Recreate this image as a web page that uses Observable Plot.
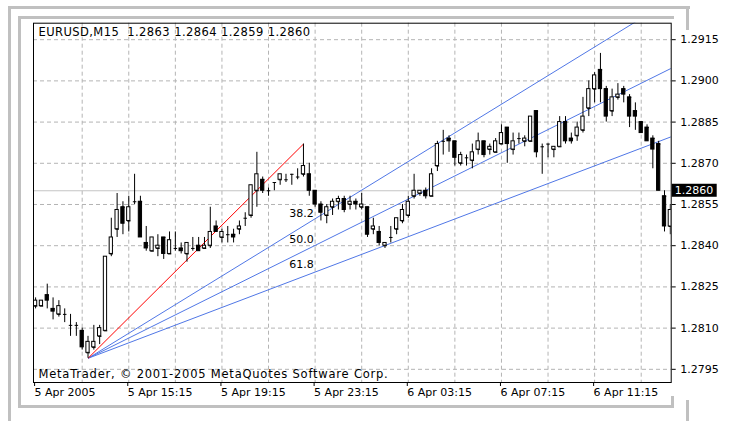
<!DOCTYPE html>
<html><head><meta charset="utf-8">
<script src="https://cdn.jsdelivr.net/npm/d3@7"></script>
<script src="https://cdn.jsdelivr.net/npm/@observablehq/plot@0.6"></script>
<style>
html,body{margin:0;padding:0;background:#fff;overflow:hidden}
#wrap{position:relative;width:731px;height:421px}
.g{position:absolute;background:#c0c0c0}
#wrap svg{position:absolute;left:0;top:0}
</style></head><body><div id="wrap"></div>
<script>
// ---- data ----
const opens = [
1.2818,1.2818,1.2822,1.2817,1.2815,1.2815,1.2811,1.2811,1.2809,1.2801,
1.2803,1.2807,1.2809,1.2837,1.2846,1.2854,1.2849,1.2856,1.2856,1.2841,
1.2838,1.2839,1.2843,1.2837,1.2839,1.2839,1.2837,1.2839,1.2840,1.2839,
1.2840,1.2847,1.2843,1.2844,1.2844,1.2846,1.2850,1.2851,1.2860,1.2864,
1.2860,1.2863,1.2864,1.2864,1.2866,1.2865,1.2866,1.2866,1.2860,1.2855,
1.2851,1.2854,1.2856,1.2857,1.2855,1.2856,1.2854,1.2854,1.2846,1.2845,
1.2840,1.2843,1.2846,1.2849,1.2851,1.2858,1.2859,1.2860,1.2858,1.2869,
1.2878,1.2879,1.2878,1.2870,1.2872,1.2871,1.2875,1.2878,1.2875,1.2874,
1.2877,1.2883,1.2875,1.2879,1.2878,1.2878,1.2889,1.2876,1.2877,1.2875,
1.2876,1.2885,1.2879,1.2880,1.2882,1.2890,1.2897,1.2904,1.2897,1.2889,
1.2894,1.2897,1.2894,1.2889,1.2885,1.2883,1.2879,1.2877,1.2858,1.2847];
const highs = [
1.2821,1.2820,1.2826,1.2821,1.2820,1.2817,1.2815,1.2812,1.2810,1.2807,
1.2811,1.2811,1.2836,1.2850,1.2859,1.2856,1.2858,1.2866,1.2858,1.2847,
1.2843,1.2844,1.2843,1.2845,1.2845,1.2841,1.2841,1.2843,1.2843,1.2843,
1.2854,1.2849,1.2846,1.2847,1.2846,1.2849,1.2852,1.2862,1.2874,1.2865,
1.2861,1.2863,1.2866,1.2866,1.2866,1.2868,1.2877,1.2870,1.2860,1.2856,
1.2855,1.2857,1.2858,1.2858,1.2858,1.2857,1.2859,1.2854,1.2850,1.2847,
1.2841,1.2847,1.2850,1.2855,1.2858,1.2866,1.2860,1.2861,1.2868,1.2878,
1.2882,1.2880,1.2878,1.2874,1.2873,1.2877,1.2881,1.2878,1.2877,1.2879,
1.2884,1.2883,1.2881,1.2881,1.2880,1.2887,1.2889,1.2877,1.2877,1.2876,
1.2887,1.2887,1.2881,1.2885,1.2894,1.2900,1.2903,1.2910,1.2898,1.2897,
1.2899,1.2898,1.2895,1.2892,1.2885,1.2884,1.2880,1.2878,1.2860,1.2855];
const lows = [
1.2817,1.2818,1.2817,1.2813,1.2814,1.2812,1.2807,1.2807,1.2802,1.2799,
1.2802,1.2804,1.2809,1.2836,1.2843,1.2844,1.2845,1.2855,1.2843,1.2838,
1.2838,1.2836,1.2835,1.2837,1.2838,1.2837,1.2834,1.2838,1.2838,1.2839,
1.2839,1.2845,1.2841,1.2841,1.2841,1.2844,1.2847,1.2850,1.2854,1.2859,
1.2858,1.2860,1.2862,1.2863,1.2862,1.2864,1.2865,1.2858,1.2854,1.2849,
1.2848,1.2851,1.2853,1.2852,1.2853,1.2853,1.2853,1.2843,1.2844,1.2840,
1.2839,1.2841,1.2844,1.2848,1.2850,1.2857,1.2858,1.2857,1.2858,1.2867,
1.2873,1.2874,1.2869,1.2869,1.2869,1.2868,1.2873,1.2872,1.2873,1.2874,
1.2877,1.2870,1.2873,1.2877,1.2876,1.2878,1.2872,1.2866,1.2872,1.2872,
1.2876,1.2877,1.2877,1.2878,1.2881,1.2887,1.2892,1.2892,1.2885,1.2887,
1.2893,1.2892,1.2883,1.2882,1.2881,1.2878,1.2868,1.2860,1.2845,1.2844];
const closes = [
1.2820,1.2820,1.2820,1.2816,1.2818,1.2815,1.2811,1.2811,1.2803,1.2805,
1.2805,1.2810,1.2836,1.2843,1.2853,1.2848,1.2854,1.2856,1.2843,1.2839,
1.2843,1.2840,1.2837,1.2842,1.2839,1.2838,1.2841,1.2839,1.2838,1.2840,
1.2845,1.2845,1.2845,1.2844,1.2843,1.2847,1.2850,1.2862,1.2866,1.2860,
1.2860,1.2863,1.2866,1.2864,1.2866,1.2865,1.2869,1.2860,1.2855,1.2852,
1.2854,1.2856,1.2857,1.2853,1.2856,1.2855,1.2855,1.2844,1.2847,1.2841,
1.2841,1.2843,1.2850,1.2853,1.2856,1.2860,1.2860,1.2858,1.2866,1.2877,
1.2878,1.2878,1.2872,1.2873,1.2872,1.2874,1.2878,1.2873,1.2876,1.2878,
1.2881,1.2877,1.2878,1.2879,1.2879,1.2887,1.2874,1.2876,1.2877,1.2876,
1.2885,1.2878,1.2878,1.2883,1.2887,1.2897,1.2902,1.2897,1.2887,1.2894,
1.2895,1.2895,1.2887,1.2887,1.2881,1.2878,1.2875,1.2860,1.2847,1.2853];

const timeTickBars = [0, 16, 32, 48, 64, 80, 96];
const timeTickLabels = ["5 Apr 2005","5 Apr 15:15","5 Apr 19:15","5 Apr 23:15","6 Apr 03:15","6 Apr 07:15","6 Apr 11:15"];
const gridBars = [8,16,24,32,40,48,56,64,72,80,88,96,104];
const priceTicks = [1.2795,1.2810,1.2825,1.2840,1.2855,1.2870,1.2885,1.2900,1.2915];
const fibBars = [9, 46];            // anchor bars of the Fibonacci fan
const fibPrices = [1.2799, 1.2877]; // low and high of the fan
const fibLevels = [38.2, 50.0, 61.8];
const bidPrice = [1.2860];
const headerText = "EURUSD,M15\u00a0\u00a01.2863 1.2864 1.2859 1.2860";
const footerText = "MetaTrader, \u00a9 2001-2005 MetaQuotes Software Corp.";

// ---- build ----
const candles = opens.map((o, i) => ({i, o, h: highs[i], l: lows[i], c: closes[i]}));
const xDomain = [-0.36, 109.15];
const yDomain = [1.27902, 1.29210];
const fan = fibLevels.map(lv => {
  const p2 = fibPrices[1] - (fibPrices[1] - fibPrices[0]) * lv / 100;
  const slope = (p2 - fibPrices[0]) / (fibBars[1] - fibBars[0]);
  return {lv, p2, x1: fibBars[0], y1: fibPrices[0], x2: xDomain[1] + 5, y2: fibPrices[0] + slope * (xDomain[1] + 5 - fibBars[0])};
});
const F = "DejaVu Sans";

const bidLabel = (index, scales, values, dims) => {
  const g = d3.create("svg:g");
  const y = scales.y(bidPrice[0]);
  const x0 = dims.width - dims.marginRight + 1;
  g.append("rect").attr("x", x0).attr("y", y - 6.5).attr("width", 45).attr("height", 13).attr("fill", "#000");
  g.append("text").attr("x", x0 + 3).attr("y", y).attr("dy", "0.35em").attr("text-anchor", "start")
    .attr("fill", "#fff").attr("font-family", F).attr("font-size", 11).text(bidPrice[0].toFixed(4));
  return g.node();
};

const chart = Plot.plot({
  width: 731, height: 421,
  marginLeft: 33, marginRight: 60.3, marginTop: 22.7, marginBottom: 39,
  style: {fontFamily: F, fontSize: "11px", background: "transparent", color: "#000", overflow: "visible"},
  x: {type: "linear", domain: xDomain},
  y: {type: "linear", domain: yDomain},
  marks: [
    Plot.ruleX(gridBars, {stroke: "#b4b4b4", strokeDasharray: "4,3"}),
    Plot.ruleY(priceTicks, {stroke: "#b4b4b4", strokeDasharray: "4,3"}),
    Plot.ruleY(bidPrice, {stroke: "#c4c4c4"}),
    Plot.link(fan, {x1: "x1", y1: "y1", x2: "x2", y2: "y2", stroke: "#5077e6", strokeWidth: 1, clip: true}),
    Plot.link([0], {x1: () => fibBars[0], y1: () => fibPrices[0], x2: () => fibBars[1], y2: () => fibPrices[1], stroke: "#ff0000", strokeWidth: 1}),
    Plot.text(fan, {x: () => fibBars[1], y: "p2", text: d => d.lv.toFixed(1), dx: -2, dy: -12, fill: "#000", fontFamily: F, fontSize: 11}),
    Plot.ruleX(candles, {x: "i", y1: "l", y2: "h", stroke: "#000", clip: true}),
    Plot.link(candles, {x1: d => d.i - 0.3, x2: d => d.i + 0.3, y1: "o", y2: "o", stroke: "#000", clip: true}),
    Plot.rect(candles, {x1: d => d.i - 0.28, x2: d => d.i + 0.28, y1: d => Math.min(d.o, d.c), y2: d => Math.max(d.o, d.c),
      fill: d => d.c >= d.o ? "#fff" : "#000", stroke: "#000", strokeWidth: 1, clip: true}),
    Plot.frame({stroke: "#000"}),
    Plot.axisY(priceTicks, {anchor: "right", tickSize: 4, tickPadding: 5, tickFormat: d => d.toFixed(4), label: null, fontSize: 11, fontFamily: F}),
    Plot.axisX(timeTickBars, {anchor: "bottom", tickSize: 4, tickPadding: 2, tickFormat: d => timeTickLabels[timeTickBars.indexOf(d)], textAnchor: "start", dx: -1, label: null, fontSize: 11, fontFamily: F}),
    Plot.text([headerText], {frameAnchor: "top-left", dx: 5, dy: 9, textAnchor: "start", lineAnchor: "middle", fill: "#000", fontFamily: F, fontSize: 11.5, className: "hdr"}),
    Plot.text([footerText], {frameAnchor: "bottom-left", dx: 5, dy: -8, textAnchor: "start", lineAnchor: "middle", fill: "#000", fontFamily: F, fontSize: 11.5, className: "ftr"}),
    bidLabel
  ]
});
d3.select(chart).selectAll(".hdr text").style("letter-spacing", "0.42px");
d3.select(chart).selectAll(".ftr text").style("letter-spacing", "0.78px");

const wrap = document.getElementById("wrap");
[[8,6,682,3],[8,6,3,415],[686,6,3,24],[686,400,3,21],[18,16,656,3],[18,16,3,392],[18,405,656,3],[671,396,3,12]]
  .forEach(([l,t,w,h]) => { const d = document.createElement("div"); d.className = "g";
    d.style.cssText = `left:${l}px;top:${t}px;width:${w}px;height:${h}px`; wrap.appendChild(d); });
wrap.appendChild(chart);
</script></body></html>
